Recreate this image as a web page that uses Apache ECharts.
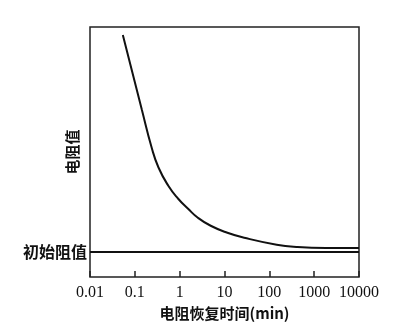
<!DOCTYPE html>
<html>
<head>
<meta charset="utf-8">
<script src="https://cdn.jsdelivr.net/npm/echarts@6/dist/echarts.min.js"></script>
<style>
  html, body { margin: 0; padding: 0; background: #fff; }
  #chart { width: 400px; height: 334px; }
</style>
</head>
<body>
<div id="chart"></div>
<script>
// Resistance recovery after a trip: resistance falls back toward (slightly above) its initial value
const recoveryTime = [0.054, 0.1425, 0.237, 0.337, 0.558, 0.927, 1.54, 2.55, 4.92, 11.6, 27.5, 146, 402, 1837, 10000];
const resistance   = [9.68, 6.71, 5.18, 4.38, 3.65, 3.13, 2.73, 2.37, 2.05, 1.77, 1.57, 1.29, 1.20, 1.16, 1.16];
const initialResistance = 1.0;
const xTickLabels = ['0.01', '0.1', '1', '10', '100', '1000', '10000'];
const yAxisName = '电阻值';
const xAxisName = '电阻恢复时间(min)';
const initialLabel = '初始阻值';

const serif = '"Liberation Serif", "DejaVu Serif", serif';
const cjk = '"Noto Sans CJK SC", sans-serif';

const chart = echarts.init(document.getElementById('chart'));
chart.setOption({
  animation: false,
  backgroundColor: '#fff',
  grid: {
    left: 90, right: 41, top: 27, bottom: 57,
    show: true, borderColor: '#222', borderWidth: 1.5, backgroundColor: 'transparent'
  },
  xAxis: {
    type: 'log',
    logBase: 10,
    min: 0.01,
    max: 10000,
    name: xAxisName,
    nameLocation: 'middle',
    nameGap: 28,
    nameTextStyle: { fontFamily: cjk, fontWeight: 'bold', fontSize: 15, color: '#111' },
    axisLine: { show: false },
    axisTick: { show: true, inside: true, length: 6, lineStyle: { color: '#222', width: 1.5 } },
    minorTick: { show: false },
    splitLine: { show: false },
    axisLabel: {
      fontFamily: serif, fontSize: 16, color: '#111', margin: 8,
      formatter: v => xTickLabels[Math.round(Math.log10(v)) + 2]
    }
  },
  yAxis: {
    type: 'value',
    min: 0,
    max: 10,
    name: yAxisName,
    nameLocation: 'middle',
    nameGap: 10,
    nameTextStyle: { fontFamily: cjk, fontWeight: 'bold', fontSize: 15, color: '#111' },
    axisLine: { show: false },
    axisTick: { show: false },
    axisLabel: { show: false },
    splitLine: { show: false }
  },
  series: [
    {
      type: 'line',
      data: recoveryTime.map((t, i) => [t, resistance[i]]),
      smooth: 0.5,
      symbol: 'none',
      lineStyle: { color: '#111', width: 2 },
      markLine: {
        silent: true,
        symbol: ['none', 'none'],
        lineStyle: { color: '#111', width: 1.8, type: 'solid' },
        label: {
          show: true,
          position: 'start',
          distance: 3,
          formatter: initialLabel,
          fontFamily: cjk, fontWeight: 'bold', fontSize: 16, color: '#111'
        },
        data: [{ yAxis: initialResistance }]
      }
    }
  ]
});
</script>
</body>
</html>
